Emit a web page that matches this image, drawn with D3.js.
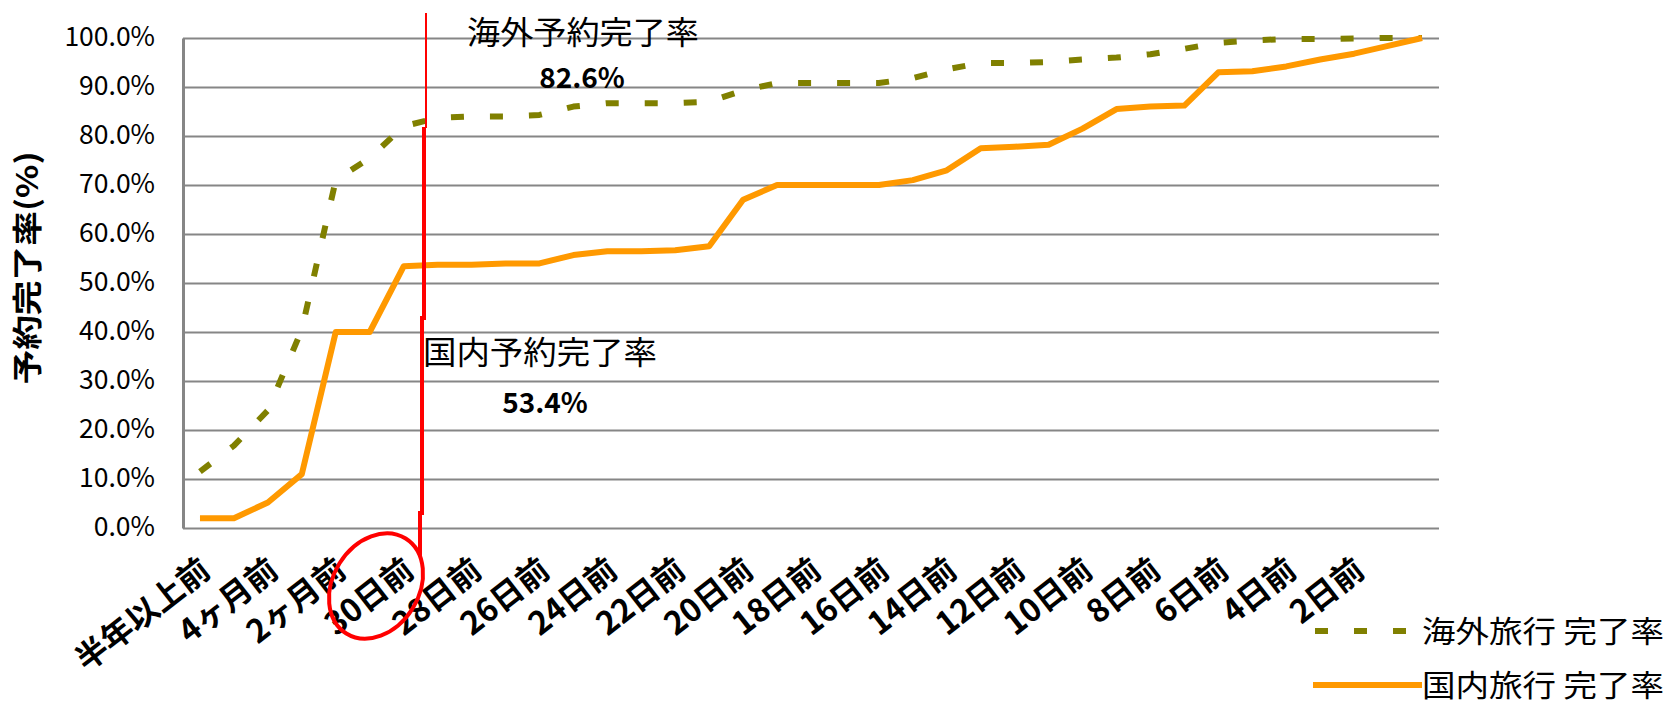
<!DOCTYPE html>
<html>
<head>
<meta charset="utf-8">
<script src="https://cdn.jsdelivr.net/npm/d3@7/dist/d3.min.js"></script>
<style>
	body { margin: 0; background: #fff; }
	svg { display: block; }
	text { font-family: "Noto Sans CJK JP", "Liberation Sans", sans-serif; fill: #000; }
</style>
</head>
<body>
<svg id="chart" width="1669" height="704"></svg>
<script>
// カテゴリ（ラベルは2つおきに表示、空文字は非表示）
const categories = [
	'半年以上前', '', '4ヶ月前', '', '2ヶ月前', '', '30日前', '', '28日前', '', '26日前', '', '24日前', '', '22日前', '',
	'20日前', '', '18日前', '', '16日前', '', '14日前', '', '12日前', '', '10日前', '', '8日前', '', '6日前', '',
	'4日前', '', '2日前', '', ''
];
const yTicks = [0, 10, 20, 30, 40, 50, 60, 70, 80, 90, 100];

// 海外旅行 完了率 (%)
const kaigai = [
	11.5, 16.8, 24, 40.5, 71, 75.5, 82, 83.7, 84, 84, 84.3, 86, 86.7, 86.7, 86.7, 87, 89.3, 90.8, 90.8,
	90.8, 90.8, 91.8, 93.6, 94.9, 94.9, 95.1, 95.6, 96, 96.7, 97.8, 99, 99.5, 99.8, 99.8, 99.9, 100, 100
];
// 国内旅行 完了率 (%)
const kokunai = [
	2, 2, 5.2, 11, 40, 40, 53.4, 53.7, 53.7, 54, 54, 55.7, 56.5, 56.5, 56.7, 57.5, 67, 70, 70,
	70, 70, 71, 73, 77.5, 77.8, 78.2, 81.5, 85.5, 86, 86.2, 93, 93.2, 94.2, 95.6, 96.8, 98.4, 100
];

const series = [
	{ name: '海外旅行 完了率', values: kaigai, color: '#808000', dash: '13,26' },
	{ name: '国内旅行 完了率', values: kokunai, color: '#FF9900', dash: null },
];

const svg = d3.select('#chart');
const plot = { left: 183, right: 1439, top: 38, bottom: 528 };

const x = d3.scalePoint().domain(d3.range(categories.length)).range([plot.left, plot.right]).padding(0.5);
const y = d3.scaleLinear().domain([0, 100]).range([plot.bottom, plot.top]);

// 目盛線
const grid = svg.append('g').attr('transform', `translate(${plot.left},0)`)
	.call(d3.axisLeft(y).tickValues(yTicks).tickSize(-(plot.right - plot.left)).tickFormat(''));
grid.select('.domain').remove();
grid.selectAll('line').attr('stroke', '#868686').attr('stroke-width', 2);

// Y軸
const yAxis = svg.append('g').attr('transform', `translate(${plot.left},0)`)
	.call(d3.axisLeft(y).tickValues(yTicks).tickSize(0).tickPadding(28).tickFormat((d) => d.toFixed(1) + '%'));
yAxis.select('.domain').attr('stroke', '#868686').attr('stroke-width', 3);
yAxis.selectAll('text').attr('font-family', '"Liberation Sans", sans-serif').attr('font-size', 26.5).attr('dy', '0.3em');

// X軸ラベル（斜め）
const xAxis = svg.append('g').attr('transform', `translate(0,${plot.bottom})`)
	.call(d3.axisBottom(x).tickValues(d3.range(categories.length).filter((i) => categories[i] !== '')).tickSize(0).tickFormat((i) => categories[i]));
xAxis.select('.domain').remove();
xAxis.selectAll('text')
	.attr('font-size', 32).attr('font-weight', 'bold')
	.attr('text-anchor', 'end').attr('y', 0).attr('dy', 0)
	.attr('transform', 'translate(12,46) rotate(-38)');

// 系列
const line = d3.line().x((d, i) => x(i)).y((d) => y(d));
series.forEach((s) => {
	svg.append('path').datum(s.values)
		.attr('fill', 'none').attr('stroke', s.color).attr('stroke-width', 6)
		.attr('stroke-dasharray', s.dash).attr('stroke-linejoin', 'round')
		.attr('d', line);
});

// 凡例
const legend = svg.append('g');
const legendRows = [{ y: 631, x1: 1315, x2: 1406 }, { y: 685, x1: 1313, x2: 1422 }];
series.forEach((s, i) => {
	const r = legendRows[i];
	legend.append('line').attr('x1', r.x1).attr('x2', r.x2).attr('y1', r.y).attr('y2', r.y)
		.attr('stroke', s.color).attr('stroke-width', 6).attr('stroke-dasharray', s.dash);
	legend.append('text').attr('x', 1422).attr('y', r.y).attr('dy', '0.35em')
		.attr('font-size', 30).attr('textLength', 242).attr('lengthAdjust', 'spacingAndGlyphs').text(s.name);
});

// Y軸タイトル
svg.append('text').attr('transform', 'translate(27,268) rotate(-90)')
	.attr('text-anchor', 'middle').attr('dy', '0.35em')
	.attr('font-size', 30).attr('font-weight', 'bold')
	.attr('textLength', 233).attr('lengthAdjust', 'spacingAndGlyphs')
	.text('予約完了率(%)');

// 注記：赤線と丸
const red = svg.append('g').attr('fill', 'none').attr('stroke', '#ff0000');
red.append('path').attr('stroke-width', 2).attr('d', 'M426,13V128');
red.append('path').attr('stroke-width', 4).attr('d', 'M424,127V318H422V513H420V556');
red.append('ellipse').attr('stroke-width', 4)
	.attr('cx', 0).attr('cy', 0).attr('rx', 43).attr('ry', 56)
	.attr('transform', 'translate(376,586) rotate(32)');

// 注記テキスト
const notes = [
	{ text: '海外予約完了率', x: 467, y: 33, size: 32, len: 232 },
	{ text: '国内予約完了率', x: 423, y: 353, size: 32, len: 234 },
];
notes.forEach((n) => {
	svg.append('text').attr('x', n.x).attr('y', n.y).attr('dy', '0.35em')
		.attr('font-size', n.size).attr('textLength', n.len).attr('lengthAdjust', 'spacingAndGlyphs').text(n.text);
});
const rates = [{ text: '82.6%', x: 582, y: 78 }, { text: '53.4%', x: 545, y: 403 }];
rates.forEach((r) => {
	svg.append('text').attr('x', r.x).attr('y', r.y).attr('dy', '0.36em').attr('text-anchor', 'middle')
		.attr('font-family', '"DejaVu Sans", sans-serif').attr('font-weight', 'bold').attr('font-size', 28).text(r.text);
});
</script>
</body>
</html>
